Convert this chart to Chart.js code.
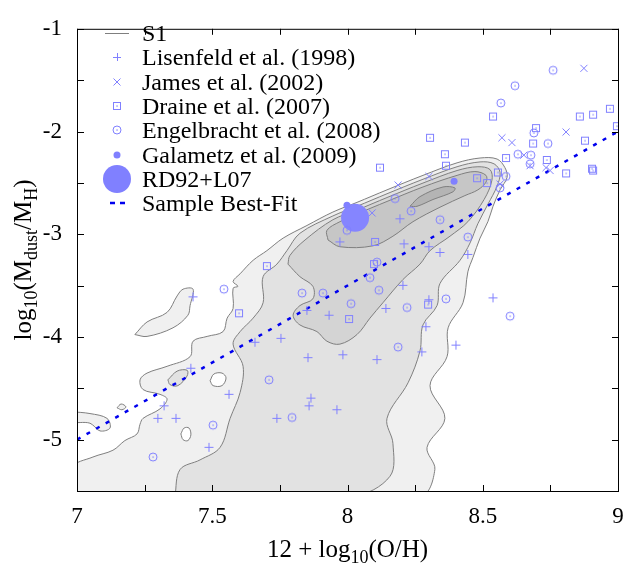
<!DOCTYPE html>
<html>
<head>
<meta charset="utf-8">
<script src="https://cdn.jsdelivr.net/npm/chart.js@4.4.0/dist/chart.umd.min.js"></script>
<style>
  html, body { margin: 0; padding: 0; background: #fff; }
</style>
</head>
<body>
<canvas id="dustChart" width="639" height="566"></canvas>
<script>
// [12 + log(O/H), log(Mdust/MH)]
const lisenfeld = [
  [7.429, -3.610], [7.421, -4.305], [7.322, -4.671], [7.299, -4.793], [7.366, -4.793],
  [7.562, -4.559], [7.488, -5.075], [7.658, -4.052], [7.754, -4.014], [7.850, -3.742],
  [7.932, -3.789], [7.854, -4.202], [7.983, -4.174], [8.109, -4.221], [7.865, -4.596],
  [7.858, -4.671], [7.961, -4.709], [7.739, -4.793], [7.972, -3.075], [8.194, -2.850],
  [8.209, -3.094], [8.301, -3.122], [8.342, -3.178], [8.445, -3.197], [8.205, -3.498],
  [8.142, -3.723], [8.301, -3.638], [8.538, -3.620], [8.290, -3.901], [8.275, -4.146],
  [8.401, -4.080]
];
const james = [
  [8.874, -1.385], [8.808, -2.005], [8.571, -2.061], [8.608, -2.108], [8.652, -2.230],
  [8.675, -2.333], [8.734, -2.352], [8.749, -2.380], [8.301, -2.437], [8.564, -2.512],
  [8.187, -2.521], [8.091, -2.793]
];
const draine = [
  [8.538, -1.854], [8.859, -1.854], [8.908, -1.836], [8.970, -1.779], [8.996, -1.948],
  [8.697, -1.967], [8.305, -2.061], [8.434, -2.108], [8.686, -2.117], [8.878, -2.089],
  [8.360, -2.221], [8.586, -2.258], [8.737, -2.277], [8.808, -2.408], [8.904, -2.362],
  [8.908, -2.380], [8.120, -2.352], [8.364, -2.333], [8.479, -2.455], [8.516, -2.502],
  [8.556, -2.399], [8.102, -3.075], [8.098, -3.291], [8.006, -3.826], [8.298, -3.685],
  [7.702, -3.310], [7.599, -3.770]
];
const engelbracht = [
  [8.760, -1.404], [8.619, -1.554], [8.567, -1.723], [8.689, -2.014], [8.741, -2.117],
  [8.630, -2.221], [8.678, -2.230], [8.675, -2.315], [8.586, -2.437], [8.564, -2.549],
  [8.176, -2.653], [8.235, -2.775], [8.342, -2.859], [8.445, -3.028], [7.998, -2.962],
  [8.109, -3.272], [8.083, -3.423], [8.116, -3.545], [8.013, -3.676], [8.220, -3.714],
  [8.364, -3.629], [8.601, -3.798], [8.187, -4.099], [7.909, -3.573], [7.832, -3.573],
  [7.543, -3.535], [7.710, -4.418], [7.795, -4.784], [7.503, -4.859], [7.281, -5.169]
];
const galametz = [[8.394, -2.484], [7.998, -2.718]];
const rd92 = [[8.028, -2.840]];
const bestFit = [[7.0, -5.0], [9.0, -2.0]];

// S1 density contours, outermost level first
const s1Outer = [
  [6.98, -5.55], [6.98, -5.272], [7.059, -5.169], [7.133, -5.103], [7.177, -5.009], [7.222, -4.944],
  [7.233, -4.850], [7.244, -4.793], [7.307, -4.700], [7.333, -4.606], [7.307, -4.559], [7.244, -4.512],
  [7.233, -4.418], [7.259, -4.352], [7.333, -4.286], [7.418, -4.192], [7.429, -4.042], [7.481, -3.995],
  [7.540, -3.948], [7.555, -3.817], [7.577, -3.723], [7.577, -3.526], [7.595, -3.507], [7.577, -3.460],
  [7.603, -3.385], [7.651, -3.254], [7.702, -3.160], [7.762, -3.038], [7.850, -2.915], [7.946, -2.784],
  [8.035, -2.690], [8.146, -2.568], [8.279, -2.427], [8.405, -2.305], [8.490, -2.258], [8.553, -2.268],
  [8.582, -2.352], [8.590, -2.446], [8.564, -2.568], [8.538, -2.728], [8.519, -2.878], [8.490, -3.038],
  [8.464, -3.225], [8.445, -3.366], [8.427, -3.667], [8.372, -3.911], [8.368, -4.192], [8.305, -4.474],
  [8.360, -4.793], [8.294, -5.075], [8.323, -5.291], [8.268, -5.55]
];
const s1IslandA = [
  [7.214, -3.977], [7.259, -3.854], [7.333, -3.761], [7.370, -3.601], [7.392, -3.535],
  [7.429, -3.535], [7.418, -3.695], [7.410, -3.789], [7.355, -3.911], [7.259, -3.995]
];
const s1IslandB = [
  [6.98, -4.728], [7.048, -4.746], [7.111, -4.793], [7.122, -4.887], [7.085, -4.915],
  [7.048, -4.840], [6.98, -4.822]
];
const s1IslandC = [[7.148, -4.690], [7.163, -4.653], [7.181, -4.681], [7.166, -4.709]];
const s1HoleA = [[7.492, -4.427], [7.506, -4.361], [7.536, -4.352], [7.551, -4.399], [7.536, -4.474], [7.503, -4.474]];
const s1HoleB = [[7.384, -4.944], [7.396, -4.887], [7.414, -4.887], [7.421, -4.953], [7.410, -5.009], [7.392, -5.000]];
const s1Level2 = [
  [7.362, -5.55], [7.381, -5.291], [7.455, -5.197], [7.529, -5.075], [7.566, -4.793], [7.603, -4.540],
  [7.614, -4.286], [7.577, -4.070], [7.603, -3.948], [7.651, -3.817], [7.688, -3.667], [7.688, -3.413],
  [7.739, -3.291], [7.776, -3.160], [7.824, -2.991], [7.946, -2.822], [8.035, -2.728], [8.146, -2.606],
  [8.279, -2.465], [8.405, -2.343], [8.490, -2.296], [8.542, -2.315], [8.564, -2.399], [8.553, -2.531],
  [8.519, -2.709], [8.482, -2.897], [8.453, -3.085], [8.416, -3.254], [8.342, -3.479], [8.331, -3.695],
  [8.279, -3.883], [8.268, -4.136], [8.224, -4.446], [8.146, -4.793], [8.168, -5.038], [8.157, -5.357],
  [8.020, -5.55]
];
const s1Level2Island = [[7.336, -4.418], [7.370, -4.333], [7.407, -4.324], [7.407, -4.380], [7.373, -4.474], [7.344, -4.465]];
const s1Level3 = [
  [7.780, -3.291], [7.787, -3.207], [7.843, -3.056], [7.946, -2.859], [8.035, -2.765], [8.146, -2.643],
  [8.279, -2.502], [8.405, -2.380], [8.482, -2.343], [8.527, -2.371], [8.534, -2.474], [8.505, -2.662],
  [8.445, -2.878], [8.379, -3.019], [8.305, -3.160], [8.268, -3.291], [8.205, -3.441], [8.131, -3.667],
  [8.083, -3.817], [8.035, -3.977], [7.972, -4.070], [7.924, -4.042], [7.887, -3.948], [7.824, -3.883],
  [7.799, -3.789], [7.824, -3.695], [7.872, -3.629], [7.872, -3.507], [7.824, -3.413]
];
const s1Level4 = [
  [7.928, -3.056], [7.924, -2.962], [7.972, -2.878], [8.035, -2.803], [8.146, -2.681], [8.279, -2.540],
  [8.405, -2.427], [8.471, -2.390], [8.512, -2.427], [8.512, -2.493], [8.482, -2.568], [8.434, -2.624],
  [8.342, -2.737], [8.242, -2.878], [8.168, -3.019], [8.094, -3.113], [7.972, -3.122]
];
const s1Level5 = [[8.231, -2.728], [8.268, -2.634], [8.353, -2.540], [8.397, -2.549], [8.390, -2.587], [8.316, -2.662], [8.257, -2.728]];

const xTickValues = [7, 7.25, 7.5, 7.75, 8, 8.25, 8.5, 8.75, 9];
const xTickLabels = [7, 7.5, 8, 8.5, 9];
const yTickValues = [-5.5, -5, -4.5, -4, -3.5, -3, -2.5, -2, -1.5, -1];
const yTickLabels = [-5, -4, -3, -2, -1];

const markColor = '#8080ff';
const fitColor = '#0000ee';
const contourLine = '#7f7f7f';
const serif = '"Liberation Serif", "DejaVu Serif", serif';

const toXY = arr => arr.map(([x, y]) => ({ x, y }));
const ring = arr => toXY(arr.concat([arr[0]]));

function markerCanvas(kind) {
    const c = document.createElement('canvas');
    c.width = 12;
    c.height = 12;
    const g = c.getContext('2d');
    g.strokeStyle = markColor;
    g.fillStyle = markColor;
    g.lineWidth = 1;
    if (kind === 'square') {
        g.strokeRect(2.5, 2.5, 7, 7);
    } else {
        g.beginPath();
        g.arc(6, 6, 4, 0, Math.PI * 2);
        g.stroke();
    }
    g.fillRect(5.4, 5.4, 1.3, 1.3);
    return c;
}
const squareMark = markerCanvas('square');
const circleMark = markerCanvas('circle');

function contour(points, color, order) {
    return {
        type: 'line',
        data: ring(points),
        borderColor: contourLine,
        borderWidth: 1,
        backgroundColor: color,
        fill: 'shape',
        tension: 0.35,
        pointRadius: 0,
        pointHoverRadius: 0,
        order
    };
}

const legendItems = [
    { label: 'S1', kind: 'contour' },
    { label: 'Lisenfeld et al. (1998)', kind: 'plus' },
    { label: 'James et al. (2002)', kind: 'cross' },
    { label: 'Draine et al. (2007)', kind: 'square' },
    { label: 'Engelbracht et al. (2008)', kind: 'circle' },
    { label: 'Galametz et al. (2009)', kind: 'dot' },
    { label: 'RD92+L07', kind: 'big' },
    { label: 'Sample Best-Fit', kind: 'fit' }
];

function drawSample(ctx, kind, cx, cy) {
    ctx.save();
    ctx.strokeStyle = markColor;
    ctx.fillStyle = markColor;
    ctx.lineWidth = 1;
    ctx.beginPath();
    switch (kind) {
        case 'contour':
            ctx.strokeStyle = contourLine;
            ctx.moveTo(105, cy + 0.5);
            ctx.lineTo(129, cy + 0.5);
            ctx.stroke();
            break;
        case 'plus':
            ctx.moveTo(cx - 4, cy + 0.5); ctx.lineTo(cx + 4, cy + 0.5);
            ctx.moveTo(cx + 0.5, cy - 4); ctx.lineTo(cx + 0.5, cy + 4);
            ctx.stroke();
            break;
        case 'cross':
            ctx.moveTo(cx - 3.5, cy - 3.5); ctx.lineTo(cx + 3.5, cy + 3.5);
            ctx.moveTo(cx - 3.5, cy + 3.5); ctx.lineTo(cx + 3.5, cy - 3.5);
            ctx.stroke();
            break;
        case 'square':
            ctx.drawImage(squareMark, cx - 6, cy - 6);
            break;
        case 'circle':
            ctx.drawImage(circleMark, cx - 6, cy - 6);
            break;
        case 'dot':
            ctx.arc(cx, cy, 3.5, 0, Math.PI * 2);
            ctx.fill();
            break;
        case 'big':
            ctx.arc(cx, cy, 14, 0, Math.PI * 2);
            ctx.fill();
            break;
        case 'fit':
            ctx.strokeStyle = fitColor;
            ctx.lineWidth = 2.5;
            ctx.setLineDash([5, 5]);
            ctx.moveTo(110, cy);
            ctx.lineTo(126, cy);
            ctx.stroke();
            break;
    }
    ctx.restore();
}

const insideLegend = {
    id: 'insideLegend',
    afterDraw(chart) {
        const ctx = chart.ctx;
        ctx.save();
        legendItems.forEach((item, i) => {
            const cy = Math.round(33 + i * 24.3);
            drawSample(ctx, item.kind, 117, cy);
            ctx.font = `24px ${serif}`;
            ctx.fillStyle = '#000';
            ctx.textBaseline = 'alphabetic';
            ctx.fillText(item.label, 142, cy + 8);
        });
        ctx.restore();
    }
};

// text with subscripts, centred on x
function drawSubText(ctx, parts, x, y) {
    const main = `25px ${serif}`;
    const sub = `18px ${serif}`;
    let total = 0;
    parts.forEach(([t, s]) => { ctx.font = s ? sub : main; total += ctx.measureText(t).width; });
    let cx = x - total / 2;
    parts.forEach(([t, s]) => {
        ctx.font = s ? sub : main;
        ctx.fillText(t, cx, s ? y + 6 : y);
        cx += ctx.measureText(t).width;
    });
}

const axisTitles = {
    id: 'axisTitles',
    afterDraw(chart) {
        const { ctx, chartArea: a } = chart;
        ctx.save();
        ctx.fillStyle = '#000';
        ctx.textBaseline = 'alphabetic';
        drawSubText(ctx, [['12 + log', false], ['10', true], ['(O/H)', false]], (a.left + a.right) / 2, 557);
        ctx.translate(31, (a.top + a.bottom) / 2);
        ctx.rotate(-Math.PI / 2);
        drawSubText(ctx, [['log', false], ['10', true], ['(M', false], ['dust', true], ['/M', false], ['H', true], [')', false]], 0, 0);
        ctx.restore();
    }
};

// frame with inward ticks on all four sides
const frame = {
    id: 'frame',
    afterDraw(chart) {
        const { ctx, chartArea: a, scales: { x, y } } = chart;
        ctx.save();
        ctx.strokeStyle = '#000';
        ctx.lineWidth = 1;
        ctx.strokeRect(a.left + 0.5, a.top + 0.5, a.right - a.left, a.bottom - a.top);
        ctx.beginPath();
        x.ticks.forEach(t => {
            const px = Math.round(x.getPixelForValue(t.value)) + 0.5;
            ctx.moveTo(px, a.bottom); ctx.lineTo(px, a.bottom - 6);
            ctx.moveTo(px, a.top); ctx.lineTo(px, a.top + 6);
        });
        y.ticks.forEach(t => {
            const py = Math.round(y.getPixelForValue(t.value)) + 0.5;
            ctx.moveTo(a.left, py); ctx.lineTo(a.left + 7, py);
            ctx.moveTo(a.right, py); ctx.lineTo(a.right - 6, py);
        });
        ctx.stroke();
        ctx.restore();
    }
};

const ctx = document.getElementById('dustChart').getContext('2d');

new Chart(ctx, {
    type: 'scatter',
    data: {
        datasets: [
            {
                label: 'RD92+L07',
                data: toXY(rd92),
                pointStyle: 'circle',
                pointRadius: 14,
                backgroundColor: '#8585ff',
                borderWidth: 0,
                order: 4
            },
            {
                label: 'Galametz et al. (2009)',
                data: toXY(galametz),
                pointStyle: 'circle',
                pointRadius: 3.5,
                backgroundColor: markColor,
                borderWidth: 0,
                order: 3
            },
            {
                label: 'Lisenfeld et al. (1998)',
                data: toXY(lisenfeld),
                pointStyle: 'cross',
                pointRadius: 4.5,
                borderColor: markColor,
                borderWidth: 1,
                order: 3
            },
            {
                label: 'James et al. (2002)',
                data: toXY(james),
                pointStyle: 'crossRot',
                pointRadius: 5,
                borderColor: markColor,
                borderWidth: 1,
                order: 3
            },
            {
                label: 'Draine et al. (2007)',
                data: toXY(draine),
                pointStyle: squareMark,
                pointRadius: 5,
                order: 3
            },
            {
                label: 'Engelbracht et al. (2008)',
                data: toXY(engelbracht),
                pointStyle: circleMark,
                pointRadius: 5,
                order: 3
            },
            {
                type: 'line',
                label: 'Sample Best-Fit',
                data: toXY(bestFit),
                borderColor: fitColor,
                borderWidth: 2.5,
                borderDash: [4, 7],
                pointRadius: 0,
                fill: false,
                order: 5
            },
            contour(s1Level5, '#b4b4b4', 15),
            contour(s1Level4, '#c6c6c6', 16),
            contour(s1Level3, '#d4d4d4', 17),
            contour(s1Level2, '#e2e2e2', 18),
            contour(s1Level2Island, '#e2e2e2', 18),
            contour(s1HoleA, '#ffffff', 19),
            contour(s1HoleB, '#ffffff', 19),
            contour(s1Outer, '#f0f0f0', 20),
            contour(s1IslandA, '#f0f0f0', 20),
            contour(s1IslandB, '#f0f0f0', 20),
            contour(s1IslandC, '#f0f0f0', 20)
        ]
    },
    options: {
        responsive: false,
        animation: false,
        events: [],
        layout: { padding: { top: 13, right: 21, left: 0, bottom: 0 } },
        plugins: {
            legend: { display: false },
            tooltip: { enabled: false }
        },
        scales: {
            x: {
                type: 'linear',
                min: 7,
                max: 9,
                grid: { display: false, drawTicks: false },
                border: { display: false },
                ticks: {
                    font: { family: serif, size: 23 },
                    color: '#000',
                    padding: 12,
                    autoSkip: false,
                    maxRotation: 0,
                    callback: value => xTickLabels.includes(value) ? String(value) : ''
                },
                afterBuildTicks: scale => { scale.ticks = xTickValues.map(value => ({ value })); },
                afterFit: scale => { scale.height = 75; }
            },
            y: {
                type: 'linear',
                min: -5.5,
                max: -1,
                grid: { display: false, drawTicks: false },
                border: { display: false },
                ticks: {
                    font: { family: serif, size: 23 },
                    color: '#000',
                    padding: 15,
                    autoSkip: false,
                    callback: value => yTickLabels.includes(value) ? String(value) : ''
                },
                afterBuildTicks: scale => { scale.ticks = yTickValues.map(value => ({ value })); },
                afterFit: scale => { scale.width = 77; }
            }
        }
    },
    plugins: [frame, insideLegend, axisTitles]
});
</script>
</body>
</html>
